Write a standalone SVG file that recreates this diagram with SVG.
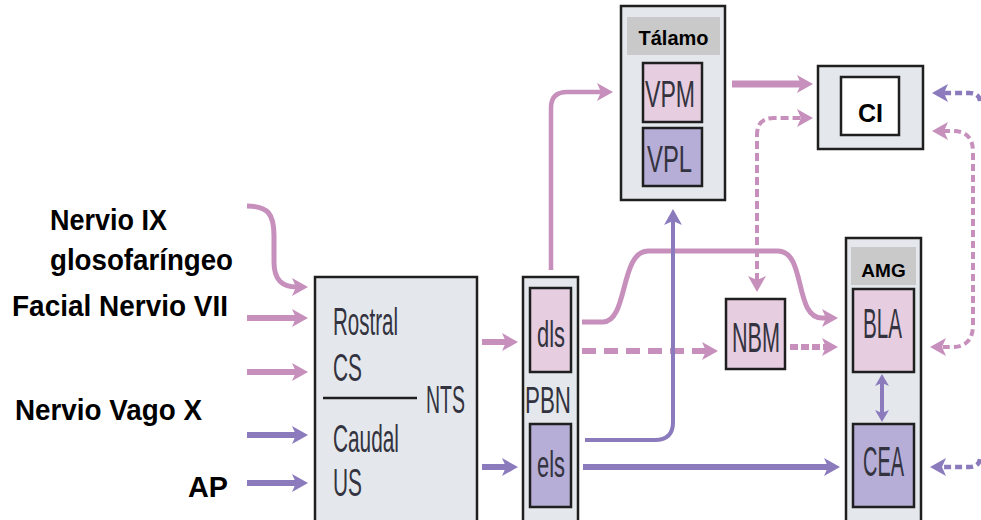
<svg xmlns="http://www.w3.org/2000/svg" width="981" height="520" viewBox="0 0 981 520">
  <style>
    .box { stroke: #1f1f1f; stroke-width: 2.5; }
    .cont { fill: #e4e8ec; }
    .pink { fill: #e6cde0; }
    .purp { fill: #b7aed8; }
    .hdr { fill: #c9c9c9; }
    .white { fill: #ffffff; }
    .lbl { font-family: "Liberation Sans", Arial, sans-serif; font-weight: bold; fill: #000; }
    .thin { font-family: "Liberation Sans", Arial, sans-serif; fill: #33333f; }
    .ps { fill: none; stroke: #c68fbc; }
    .us { fill: none; stroke: #8b7bbd; }
  </style>
  <defs>
    <marker id="hp" viewBox="0 0 16 18" markerWidth="16" markerHeight="18" refX="5" refY="9" orient="auto-start-reverse" markerUnits="userSpaceOnUse">
      <path d="M0,0 L16,9 L0,18 L4,9 Z" fill="#c68fbc"/>
    </marker>
    <marker id="hu" viewBox="0 0 16 18" markerWidth="16" markerHeight="18" refX="5" refY="9" orient="auto-start-reverse" markerUnits="userSpaceOnUse">
      <path d="M0,0 L16,9 L0,18 L4,9 Z" fill="#8b7bbd"/>
    </marker>
    <marker id="hus" viewBox="0 0 12 14" markerWidth="12" markerHeight="14" refX="4" refY="7" orient="auto-start-reverse" markerUnits="userSpaceOnUse">
      <path d="M0,0 L12,7 L0,14 L3,7 Z" fill="#8b7bbd"/>
    </marker>
  </defs>

  <!-- input labels -->
  <g id="labels">
    <text class="lbl" x="50" y="230" font-size="30" textLength="117" lengthAdjust="spacingAndGlyphs">Nervio IX</text>
    <text class="lbl" x="50" y="270" font-size="30" textLength="183" lengthAdjust="spacingAndGlyphs">glosofaríngeo</text>
    <text class="lbl" x="12" y="316" font-size="30" textLength="216" lengthAdjust="spacingAndGlyphs">Facial Nervio VII</text>
    <text class="lbl" x="15" y="420" font-size="30" textLength="187" lengthAdjust="spacingAndGlyphs">Nervio Vago X</text>
    <text class="lbl" x="188" y="497" font-size="30" textLength="40" lengthAdjust="spacingAndGlyphs">AP</text>
  </g>

  <!-- NTS -->
  <g id="nts">
    <rect class="box cont" x="315" y="277" width="162" height="260"/>
    <text class="thin" x="333" y="335" font-size="38" textLength="65" lengthAdjust="spacingAndGlyphs">Rostral</text>
    <text class="thin" x="333" y="381" font-size="38" textLength="29" lengthAdjust="spacingAndGlyphs">CS</text>
    <line x1="323" y1="398" x2="417" y2="398" stroke="#1f1f1f" stroke-width="2.5"/>
    <text class="thin" x="426" y="413" font-size="38" textLength="39" lengthAdjust="spacingAndGlyphs">NTS</text>
    <text class="thin" x="333" y="452" font-size="38" textLength="66" lengthAdjust="spacingAndGlyphs">Caudal</text>
    <text class="thin" x="333" y="496" font-size="38" textLength="29" lengthAdjust="spacingAndGlyphs">US</text>
  </g>

  <!-- PBN -->
  <g id="pbn">
    <rect class="box cont" x="523" y="277" width="55" height="260"/>
    <rect class="box pink" x="530" y="288" width="41" height="84"/>
    <text class="thin" x="537" y="347" font-size="36" textLength="28" lengthAdjust="spacingAndGlyphs">dls</text>
    <text class="thin" x="525" y="413" font-size="37" textLength="46" lengthAdjust="spacingAndGlyphs">PBN</text>
    <rect class="box purp" x="530" y="424" width="41" height="83"/>
    <text class="thin" x="537" y="477" font-size="36" textLength="28" lengthAdjust="spacingAndGlyphs">els</text>
  </g>

  <!-- Thalamus -->
  <g id="talamo">
    <rect class="box cont" x="621" y="6" width="104" height="194"/>
    <rect class="hdr" x="627" y="17" width="93" height="38"/>
    <text class="lbl" x="673.5" y="45" font-size="20" text-anchor="middle">Tálamo</text>
    <rect class="box pink" x="643" y="63" width="59" height="59"/>
    <text class="thin" x="645" y="107" font-size="37" textLength="50" lengthAdjust="spacingAndGlyphs">VPM</text>
    <rect class="box purp" x="643" y="128" width="59" height="58"/>
    <text class="thin" x="647" y="172" font-size="37" textLength="45" lengthAdjust="spacingAndGlyphs">VPL</text>
  </g>

  <!-- insular cortex -->
  <g id="ci">
    <rect class="box cont" x="818" y="66" width="105" height="83"/>
    <rect class="box white" x="841" y="77" width="58" height="58"/>
    <text class="lbl" x="870.5" y="122" font-size="25" text-anchor="middle">CI</text>
  </g>

  <!-- NBM -->
  <g id="nbm">
    <rect class="box pink" x="726" y="299" width="59" height="70"/>
    <text class="thin" x="732" y="352" font-size="42" textLength="48" lengthAdjust="spacingAndGlyphs">NBM</text>
  </g>

  <!-- amygdala -->
  <g id="amg">
    <rect class="box cont" x="846" y="238" width="75" height="300"/>
    <rect class="hdr" x="851" y="247" width="65" height="38"/>
    <text class="lbl" x="883.5" y="277" font-size="19" text-anchor="middle">AMG</text>
    <rect class="box pink" x="853" y="289" width="61" height="83"/>
    <text class="thin" x="863" y="338" font-size="42" textLength="39" lengthAdjust="spacingAndGlyphs">BLA</text>
    <rect class="box purp" x="853" y="424" width="61" height="83"/>
    <text class="thin" x="863" y="476" font-size="42" textLength="41" lengthAdjust="spacingAndGlyphs">CEA</text>
  </g>

  <!-- connectors -->
  <g id="connectors">
    <!-- inputs to NTS -->
    <path class="ps" stroke-width="5" d="M247,206 C268,206 274,214 274,236 L274,262 C274,280 282,287 297,287" marker-end="url(#hp)"/>
    <path class="ps" stroke-width="6" d="M247,318 L297,318" marker-end="url(#hp)"/>
    <path class="ps" stroke-width="6" d="M247,372 L297,372" marker-end="url(#hp)"/>
    <path class="us" stroke-width="6" d="M247,435 L297,435" marker-end="url(#hu)"/>
    <path class="us" stroke-width="6" d="M247,483 L297,483" marker-end="url(#hu)"/>

    <!-- NTS to PBN -->
    <path class="ps" stroke-width="6" d="M482,342 L507,342" marker-end="url(#hp)"/>
    <path class="us" stroke-width="6" d="M482,467 L507,467" marker-end="url(#hu)"/>

    <!-- dls to VPM -->
    <path class="ps" stroke-width="4.5" d="M551,270 L551,108 Q551,92 567,92 L602,92" marker-end="url(#hp)"/>
    <!-- dls to BLA -->
    <path class="ps" stroke-width="5" d="M582,322 L603,322 C628,322 620,251 648,251 L778,251 C806,251 794,318 822,318 L827,318" marker-end="url(#hp)"/>
    <!-- dls to NBM -->
    <path class="ps" stroke-width="6" stroke-dasharray="14 8" d="M582,351 L707,351" marker-end="url(#hp)"/>
    <!-- NBM to BLA -->
    <path class="ps" stroke-width="6" stroke-dasharray="8 3" d="M790,347 L827,347" marker-end="url(#hp)"/>
    <!-- NBM to CI -->
    <path class="ps" stroke-width="4" stroke-dasharray="8 4" d="M757,281 L757,135 Q757,118 774,118 L802,118" marker-start="url(#hp)" marker-end="url(#hp)"/>

    <!-- els to VPL -->
    <path class="us" stroke-width="4" d="M585,440 L655,440 Q673,440 673,422 L673,220" marker-end="url(#hu)"/>
    <!-- els to CEA -->
    <path class="us" stroke-width="6" d="M583,467 L829,467" marker-end="url(#hu)"/>

    <!-- VPM to CI -->
    <path class="ps" stroke-width="7" d="M732,84 L802,84" marker-end="url(#hp)"/>

    <!-- CI to BLA, right side -->
    <path class="ps" stroke-width="4" stroke-dasharray="7 4" d="M943,131 L953,131 Q973,131 973,152 L973,325 Q973,347 952,347 L941,347" marker-start="url(#hp)" marker-end="url(#hp)"/>
    <!-- incoming from the right -->
    <path class="us" stroke-width="4.5" stroke-dasharray="7 4" d="M980,101 Q979,93 969,93 L943,93" marker-end="url(#hu)"/>
    <path class="us" stroke-width="4.5" stroke-dasharray="7 4" d="M980,459 Q979,467 969,467 L941,467" marker-end="url(#hu)"/>

    <!-- BLA to CEA -->
    <path class="us" stroke-width="4" d="M882,382 L882,414" marker-start="url(#hus)" marker-end="url(#hus)"/>
  </g>
</svg>
